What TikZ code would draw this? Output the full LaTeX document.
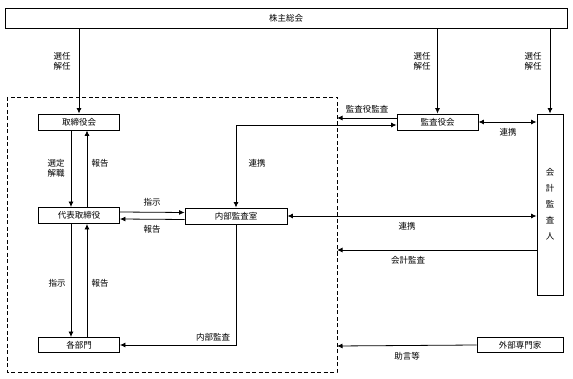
\documentclass[tikz,border=0pt]{standalone}
\usepackage{fontspec}
\setmainfont{Noto Sans CJK JP}
\usetikzlibrary{arrows.meta}
\begin{document}
\begin{tikzpicture}[x=1pt,y=-1pt,
  box/.style={draw,line width=0.9pt,inner sep=0pt,font=\fontsize{8.5}{10}\selectfont},
  lbl/.style={font=\fontsize{8.5}{10}\selectfont,inner sep=1pt,align=center},
  arr/.style={line width=0.8pt,-{Latex[length=5.5pt,width=5pt]}},
  darr/.style={line width=0.8pt,{Latex[length=5.5pt,width=5pt]}-{Latex[length=5.5pt,width=5pt]}}]
\useasboundingbox (0,0) rectangle (573,379);
% dashed frame
\draw[dashed,line width=0.9pt,dash pattern=on 4pt off 2.5pt] (7,97) rectangle (337,372);
% boxes
\node[box,minimum width=562pt,minimum height=20pt] (agm) at (286,18) {株主総会};
\node[box,minimum width=81pt,minimum height=16pt] (board) at (79,122) {取締役会};
\node[box,minimum width=81pt,minimum height=16pt] (rep) at (79,215.5) {代表取締役};
\node[box,minimum width=81pt,minimum height=15pt] (dept) at (79,345) {各部門};
\node[box,minimum width=102pt,minimum height=16pt] (ia) at (236,216) {内部監査室};
\node[box,minimum width=81pt,minimum height=16pt] (kansa) at (437.5,122) {監査役会};
\node[box,minimum width=26pt,minimum height=181pt] (acc) at (550,204.5) {};
\node[lbl,align=center,font=\fontsize{8.5}{16}\selectfont] (acctxt) at (550,204.5) {会\\計\\監\\査\\人};
\node[box,minimum width=86pt,minimum height=15pt] (ext) at (520,345) {外部専門家};
% frame coordinates
\coordinate (f1) at (337,118);
\coordinate (f2) at (337,250);
\coordinate (f3) at (337,346);
% AGM arrows
\draw[arr] (agm.south -| board) -- (board.north);
\draw[arr] (agm.south -| kansa) -- (kansa.north);
\draw[arr] (agm.south -| acc) -- (acc.north);
\node[lbl] at (62,61) {選任\\解任};
\node[lbl] at (422,61) {選任\\解任};
\node[lbl] at (533,61) {選任\\解任};
% board <-> rep
\draw[arr] ([xshift=-8pt]board.south) -- ([xshift=-8pt]rep.north);
\draw[arr] ([xshift=8pt]rep.north) -- ([xshift=8pt]board.south);
\node[lbl] at (56,168) {選定\\解職};
\node[lbl] at (100,163) {報告};
% rep <-> dept
\draw[arr] ([xshift=-8pt]rep.south) -- ([xshift=-8pt]dept.north);
\draw[arr] ([xshift=8pt]dept.north) -- ([xshift=8pt]rep.south);
\node[lbl] at (57,283) {指示};
\node[lbl] at (100,283) {報告};
% rep <-> ia
\draw[arr] ([yshift=3.5pt]rep.east) -- ([yshift=3.5pt]ia.west);
\draw[arr] ([yshift=-3.5pt]ia.west) -- ([yshift=-3.5pt]rep.east);
\node[lbl] at (152,202) {指示};
\node[lbl] at (152,229) {報告};
% ia -> dept
\draw[arr] (ia.south) |- (dept.east);
\node[lbl] at (213,337) {内部監査};
% ia <-> kansa
\draw[darr] (ia.north) |- ([yshift=-3pt]kansa.west);
\node[lbl] at (257,163) {連携};
% kansa -> frame
\draw[arr] (kansa.west |- f1) -- (f1);
\node[lbl] at (367,109) {監査役監査};
% kansa <-> acc
\draw[darr] (kansa.east) -- (acc.west |- kansa.east);
\node[lbl] at (508,132) {連携};
% ia <-> acc
\draw[darr] (ia.east) -- (acc.west |- ia.east);
\node[lbl] at (407,226) {連携};
% acc -> frame
\draw[arr] (acc.west |- f2) -- (f2);
\node[lbl] at (408,260) {会計監査};
% ext -> frame
\draw[arr] (ext.west) -- (f3);
\node[lbl] at (407,356) {助言等};
\end{tikzpicture}
\end{document}
